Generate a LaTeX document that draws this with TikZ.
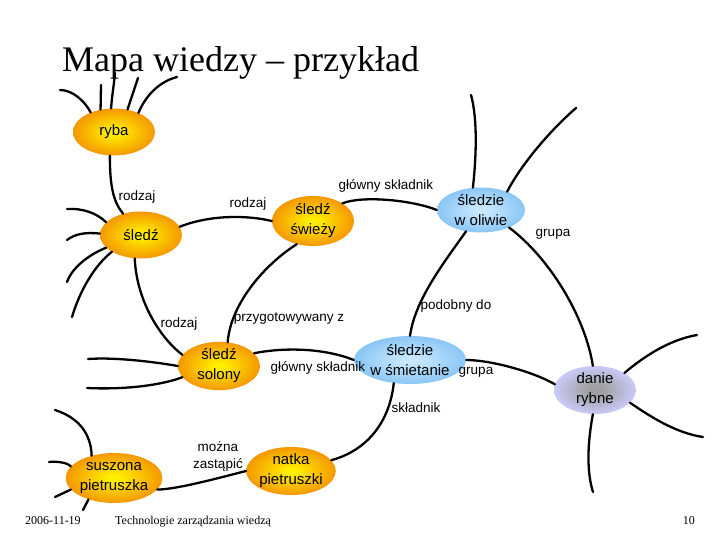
\documentclass[tikz,border=0pt]{standalone}
\usepackage{fontspec}
\setmainfont{Liberation Serif}
\newfontfamily\arialf{Liberation Sans}
\usetikzlibrary{shapes.geometric}
\definecolor{orin}{RGB}{255,238,0}
\definecolor{orout}{RGB}{244,152,0}
\definecolor{blin}{RGB}{200,232,255}
\definecolor{blout}{RGB}{138,198,245}
\definecolor{lvin}{RGB}{160,160,162}
\definecolor{lvout}{RGB}{200,200,246}
\pgfdeclareradialshading{orshade}{\pgfpoint{0bp}{0bp}}{color(0bp)=(orin); color(3bp)=(orin); color(25bp)=(orout); color(50bp)=(orout)}
\pgfdeclareradialshading{blshade}{\pgfpoint{0bp}{0bp}}{color(0bp)=(blin); color(3bp)=(blin); color(25bp)=(blout); color(50bp)=(blout)}
\pgfdeclareradialshading{lvshade}{\pgfpoint{0bp}{0bp}}{color(0bp)=(lvin); color(5bp)=(lvin); color(24bp)=(lvout); color(50bp)=(lvout)}
\begin{document}
\begin{tikzpicture}[x=1pt,y=-1pt,
  concept/.style={ellipse, minimum width=82pt, minimum height=47pt, inner sep=0pt, align=center,
    font=\arialf\fontsize{15}{20}\selectfont},
  orangenode/.style={concept, shading=orshade},
  bluenode/.style={concept, shading=blshade, minimum width=88pt, minimum height=45pt},
  lavnode/.style={concept, shading=lvshade},
  link/.style={line width=2.3pt, line cap=round},
  lbl/.style={font=\arialf\fontsize{13.5}{17}\selectfont, inner sep=0pt, align=center},
  foot/.style={font=\fontsize{12}{14}\selectfont, inner sep=0pt, anchor=base west}]
\useasboundingbox (0,0) rectangle (720,540);
\fill[white] (0,0) rectangle (720,540);

% title
\node[anchor=base west, inner sep=0pt, font=\fontsize{36}{40}\selectfont] (title) at (62,72) {Mapa wiedzy – przykład};

% concept nodes
\node[orangenode] (ryba) at (114,132) {ryba};
\node[orangenode] (sledz) at (141,235) {śledź};
\node[orangenode, minimum height=50pt] (swiezy) at (313,221) {śledź\\świeży};
\node[bluenode] (oliwie) at (481,210) {śledzie\\w oliwie};
\node[orangenode, minimum height=48pt] (solony) at (219,366) {śledź\\solony};
\node[bluenode, minimum height=48pt] (smiet) at (410,360) {śledzie\\w śmietanie};
\node[lavnode] (danie) at (595,390) {danie\\rybne};
\node[orangenode, minimum height=48pt] (natka) at (291,471) {natka\\pietruszki};
\node[orangenode, minimum height=50pt] (suszona) at (114,478) {suszona\\pietruszka};

% free ends
\coordinate (r1) at (60,90);
\coordinate (r2) at (101,85);
\coordinate (r3) at (115,73);
\coordinate (r4) at (138,78);
\coordinate (r5) at (177,77);
\coordinate (s1) at (67,209);
\coordinate (s2) at (67,240);
\coordinate (s3) at (67,282);
\coordinate (s4) at (72,317);
\coordinate (p1) at (88,359);
\coordinate (p2) at (87,388);
\coordinate (u1) at (55,410);
\coordinate (u2) at (49,462);
\coordinate (u3) at (55,497);
\coordinate (u4) at (83,510);
\coordinate (d1) at (697,335);
\coordinate (d2) at (703,437);
\coordinate (d3) at (593,492);
\coordinate (o1) at (471,95);
\coordinate (o2) at (576,108);

% connectors
\draw[link] (ryba.-100) .. controls +(0,30) and +(-10,-12) .. (sledz.130);
\draw[link] (sledz.12) .. controls +(30,-12) and +(-25,-6) .. (swiezy.west);
\draw[link] (swiezy.31) .. controls +(20,-8) and +(-25,-10) .. (oliwie.west);
\draw[link] (oliwie.-32) .. controls +(40,30) and +(-8,-50) .. (danie.95);
\draw[link] (oliwie.-125) .. controls +(-25,35) and +(5,-35) .. (smiet.north);
\draw[link] (swiezy.-125) .. controls +(-33,21) and +(3,-38) .. (solony.70);
\draw[link] (sledz.-105) .. controls +(2,45) and +(-20,-15) .. (solony.163);
\draw[link] (solony.20) .. controls +(30,-6) and +(-30,-12) .. (smiet.west);
\draw[link] (smiet.east) .. controls +(25,0) and +(-20,-12) .. (danie.172);
\draw[link] (smiet.-125) .. controls +(-5,45) and +(30,-8) .. (natka.15);
\draw[link] (natka.west) .. controls +(-20,5) and +(20,0) .. (suszona.-15);

% dangling lines
\draw[link] (ryba.140) .. controls (84,100) and (72,90) .. (r1);
\draw[link] (ryba.121) -- (r2);
\draw[link] (ryba.97) .. controls (112,95) and (114,85) .. (r3);
\draw[link] (ryba.59) -- (r4);
\draw[link] (ryba.38) .. controls (145,97) and (158,82) .. (r5);
\draw[link] (sledz.160) .. controls (97,213) and (82,208) .. (s1);
\draw[link] (sledz.178) .. controls (85,232) and (75,234) .. (s2);
\draw[link] (sledz.200) .. controls (88,255) and (72,268) .. (s3);
\draw[link] (sledz.210) .. controls (95,265) and (80,290) .. (s4);
\draw[link] (solony.west) .. controls (155,362) and (115,357) .. (p1);
\draw[link] (solony.197) .. controls (165,384) and (130,390) .. (p2);
\draw[link] (suszona.135) .. controls (91,435) and (80,418) .. (u1);
\draw[link] (suszona.165) .. controls (68,463) and (58,461) .. (u2);
\draw[link] (suszona.-165) -- (u3);
\draw[link] (suszona.-140) -- (u4);
\draw[link] (danie.30) .. controls (642,358) and (668,340) .. (d1);
\draw[link] (danie.-20) .. controls (648,415) and (675,433) .. (d2);
\draw[link] (danie.-95) .. controls (588,440) and (586,470) .. (d3);
\draw[link] (oliwie.110) .. controls (476,160) and (478,120) .. (o1);
\draw[link] (oliwie.35) .. controls (518,170) and (545,135) .. (o2);

% labels
\node[lbl] (l1) at (137,197) {rodzaj};
\node[lbl] (l2) at (248,204) {rodzaj};
\node[lbl] (l3) at (386,186) {główny składnik};
\node[lbl] (l4) at (553,234) {grupa};
\node[lbl] (l5) at (456,306) {podobny do};
\node[lbl] (l6) at (179,324) {rodzaj};
\node[lbl] (l7) at (289,319) {przygotowywany z};
\node[lbl] (l8) at (318,368) {główny składnik};
\node[lbl] (l9) at (476,372) {grupa};
\node[lbl] (l10) at (416,408) {składnik};
\node[lbl] (l11) at (218,457) {można\\zastąpić};

% footer
\node[foot] (date) at (25,524) {2006-11-19};
\node[foot] (course) at (115,524) {Technologie zarządzania wiedzą};
\node[foot, anchor=base east] (page) at (695,524) {10};
\end{tikzpicture}
\end{document}
